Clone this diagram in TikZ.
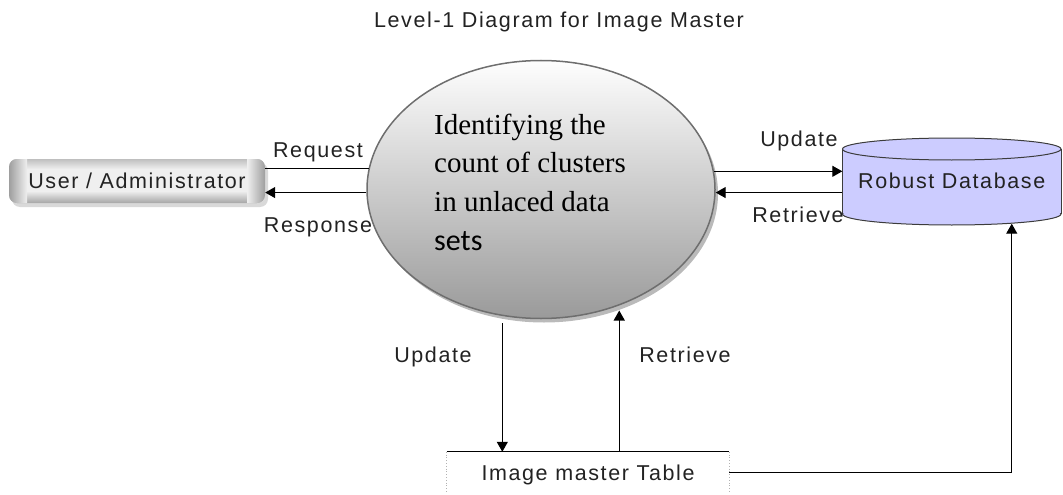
\documentclass[tikz,border=0pt]{standalone}
\usepackage{fontspec}
\setmainfont{Liberation Sans}[LetterSpace=7.5]
\newfontfamily\procserif{Liberation Serif}
\newfontfamily\procsans{Carlito}
\usetikzlibrary{arrows.meta,shapes.geometric,shadows}

\definecolor{ink}{HTML}{222222}
\definecolor{dbfill}{HTML}{CCCCFF}
\definecolor{dbline}{HTML}{3C3C3C}
\definecolor{procline}{HTML}{6E6E6E}
\definecolor{proctop}{HTML}{FEFEFE}
\definecolor{procbot}{HTML}{9A9A9A}
\definecolor{boxmid}{HTML}{EFEFEF}
\definecolor{boxedge}{HTML}{9E9E9E}

\tikzset{
  lbl/.style={font=\fontsize{21.5}{25}\selectfont, text=ink, inner sep=0pt},
  boxlbl/.style={lbl, text height=15pt, text depth=0pt},
  ln/.style={line width=1.2pt, black},
  arr/.style={ln, -{Triangle[length=10pt,width=11pt]}},
  proc/.style={ellipse, draw=procline, line width=1.5pt, inner sep=0pt,
    minimum width=348pt, minimum height=258pt,
    top color=proctop, bottom color=procbot,
    drop shadow={shadow xshift=3pt, shadow yshift=-4pt, fill=black!45, opacity=.6}},
  proctext/.style={font=\procserif\fontsize{29}{35}\selectfont, text=black, inner sep=0pt, anchor=base west},
}

\begin{document}
\begin{tikzpicture}[x=1pt, y=-1pt]
\useasboundingbox (0,0) rectangle (1063,495);

% heading
\node[lbl, anchor=base] (title) at (559,28) {Level-1 Diagram for Image Master};

% external entity: shaded rounded box with a soft shadow
\fill[black, opacity=.15, rounded corners=8pt] (12,163) rectangle (268,207);
\begin{scope}
  \clip[rounded corners=8pt] (9,159) rectangle (265,203);
  \fill[boxmid] (9,159) rectangle (265,203);
  \shade[top color=black!25, bottom color=boxmid] (9,159) rectangle (265,169);
  \shade[top color=boxmid, bottom color=black!35] (9,191) rectangle (265,203);
  \shade[left color=boxedge, right color=boxmid] (9,159) rectangle (27,203);
  \shade[left color=boxmid, right color=boxedge] (247,159) rectangle (265,203);
\end{scope}
\node[boxlbl, minimum width=256pt, minimum height=44pt] (user) at (137,181) {User / Administrator};

% data store: cylinder
\fill[dbfill] (842.5,149) rectangle (1061,214);
\draw[dbline, line width=1pt, fill=dbfill] (951.75,214) ellipse [x radius=109.25pt, y radius=11pt];
\fill[dbfill] (842.5,149) rectangle (1061,213);
\draw[dbline, line width=1pt] (842.5,149) -- (842.5,214) (1061,149) -- (1061,214);
\draw[dbline, line width=1pt, fill=dbfill] (951.75,149) ellipse [x radius=109.25pt, y radius=11pt];
\node[boxlbl, minimum width=218.5pt, minimum height=86pt] (db) at (951.75,180.5) {Robust Database};

% process
\node[proc] (proc) at (541,189.5) {};
\node[proctext] (t1) at (434,134) {Identifying the};
\node[proctext] (t2) at (434,172.5) {count of clusters};
\node[proctext] (t3) at (434,211) {in unlaced data};
\node[proctext, font=\procsans\fontsize{30}{35}\selectfont] (t4) at (434,250) {sets};

% table
\node[boxlbl, minimum width=282pt, minimum height=41pt] (table) at (588,472.5) {Image master Table};
\draw[black!30, dotted, line width=.8pt] (table.north west) -- (table.south west)
  (table.north east) -- (table.south east);
\draw[ln] (table.north west) -- (table.north east);

% flows between user and process
\draw[ln] (user.east |- proc.173.9) -- (proc.173.9);
\draw[arr] (proc.181) -- (user.east |- proc.181);
\node[lbl, anchor=base] (lreq) at (318,157) {Request};
\node[lbl, anchor=base] (lres) at (318,232) {Response};

% flows between process and database
\draw[arr] (proc.6.1) -- (db.west |- proc.6.1);
\draw[arr] (db.west |- proc.-1) -- (proc.-1);
\node[lbl, anchor=base] (lupd) at (799,146) {Update};
\node[lbl, anchor=base] (lret) at (798,222) {Retrieve};

% flows between process and table
\draw[arr, shorten <=7pt] (proc.253.2) -- (proc.253.2 |- table.north);
\draw[arr, shorten >=5pt] (table.north -| proc.-56.8) -- (proc.-56.8);
\node[lbl, anchor=base] (lupd2) at (433,362) {Update};
\node[lbl, anchor=base] (lret2) at (685,362) {Retrieve};

% table feeds the database
\draw[arr] (table.east) -| ([xshift=60pt]db.south);
\end{tikzpicture}
\end{document}
